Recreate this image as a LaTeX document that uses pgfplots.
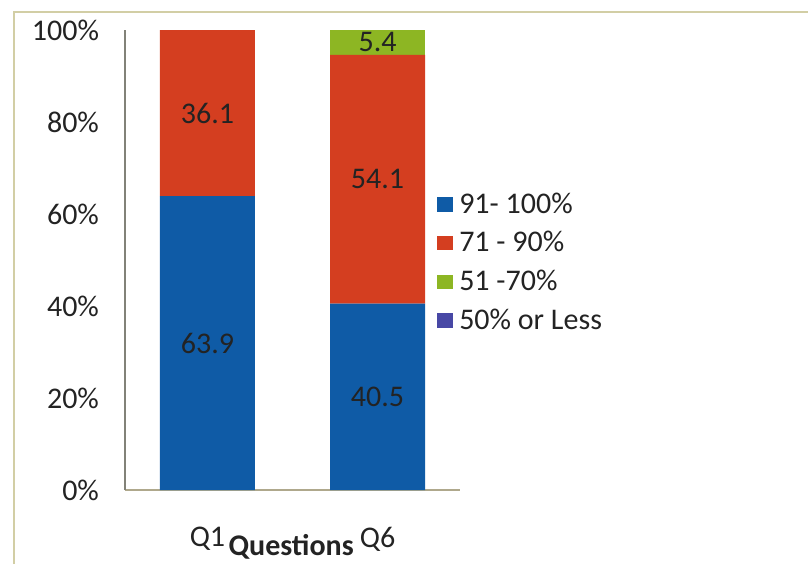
\documentclass[border=0pt]{standalone}
\usepackage{fontspec}
\setmainfont{Carlito}
\usepackage{pgfplots}
\pgfplotsset{compat=1.18}
\definecolor{cblue}{RGB}{15,91,166}
\definecolor{cred}{RGB}{212,62,32}
\definecolor{cgreen}{RGB}{141,182,35}
\definecolor{cpurple}{RGB}{72,72,165}
\definecolor{frame}{RGB}{210,206,165}
\definecolor{txt}{RGB}{35,35,35}
\pgfplotsset{sq/.style={legend image code/.code={\fill[#1] (0pt,-3.6pt) rectangle (8pt,3.6pt);}}}
\begin{document}
\begin{tikzpicture}
\path[use as bounding box] (0,0) rectangle (404pt,282pt);
\draw[frame, line width=1pt] (7pt,0pt) -- (7pt,276pt) -- (404pt,276pt);
\begin{axis}[
  at={(62.5pt,37pt)}, anchor=south west,
  scale only axis, width=167.5pt, height=230pt,
  ybar stacked, bar width=47.5pt,
  xmin=-0.485, xmax=1.485, ymin=0, ymax=100,
  axis x line=bottom, axis y line=left,
  axis line style={-},
  x axis line style={draw={rgb,255:red,175;green,168;blue,140}, line width=0.8pt},
  y axis line style={draw={rgb,255:red,130;green,130;blue,120}, line width=0.8pt},
  major tick length=0pt,
  xtick={0,1}, xticklabels={Q1,Q6},
  ytick={0,20,40,60,80,100},
  yticklabels={0\%,20\%,40\%,60\%,80\%,100\%},
  tick label style={font=\fontsize{15}{17}\selectfont, text=txt},
  yticklabel style={xshift=-9.5pt},
  xticklabel style={anchor=center, yshift=-24.5pt},
  xlabel={\textbf{Questions}},
  xlabel style={at={(axis description cs:0.496,0)}, anchor=center, yshift=-28.5pt, font=\fontsize{15}{17}\selectfont, text=txt},
  legend style={draw=none, fill=none, at={(axis description cs:0.931,0.4946)}, anchor=west,
    font=\fontsize{15}{17}\selectfont, text=txt, row sep=3.6pt, inner xsep=0pt,
    nodes={inner xsep=3pt}, column sep=0pt},
  legend cell align=left,
  clip=false,
]
\addplot[fill=cblue, draw=none, sq={cblue}] coordinates {(0,63.9) (1,40.5)};
\addplot[fill=cred, draw=none, sq={cred}] coordinates {(0,36.1) (1,54.1)};
\addplot[fill=cgreen, draw=none, sq={cgreen}] coordinates {(0,0) (1,5.4)};
\addplot[fill=cpurple, draw=none, sq={cpurple}] coordinates {(0,0) (1,0)};
\legend{91- 100\%, 71 - 90\%, 51 -70\%, 50\% or Less}
\end{axis}
\begin{axis}[
  at={(62.5pt,37pt)}, anchor=south west,
  scale only axis, width=167.5pt, height=230pt,
  xmin=-0.485, xmax=1.485, ymin=0, ymax=100,
  hide axis, clip=false,
]
\addplot[draw=none, mark=none, nodes near coords, point meta=explicit symbolic,
  every node near coord/.style={anchor=center, font=\fontsize{15}{17}\selectfont, text=txt}]
  table[meta=lab] {
x y lab
0 31.95 63.9
0 81.95 36.1
1 20.25 40.5
1 67.55 54.1
1 97.3 5.4
};
\end{axis}
\end{tikzpicture}
\end{document}
